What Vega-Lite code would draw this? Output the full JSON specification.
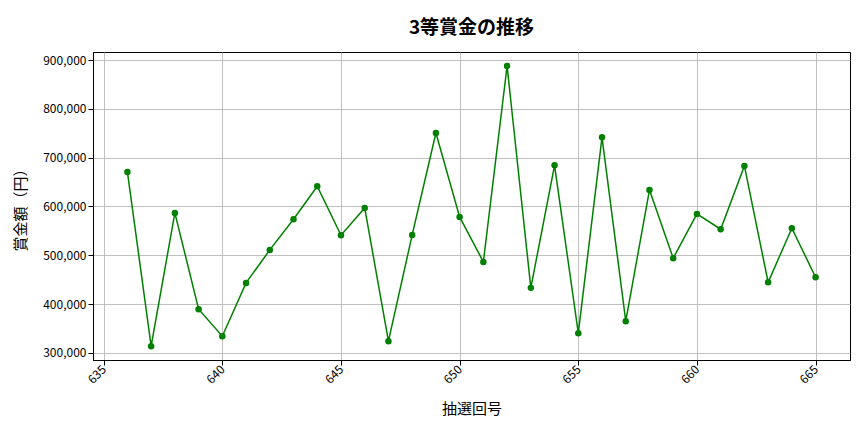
{
  "$schema": "https://vega.github.io/schema/vega-lite/v6.json",
  "autosize": "none",
  "width": 757,
  "height": 308,
  "padding": {"left": 93, "top": 52, "right": 14, "bottom": 72},
  "background": "white",
  "title": {
    "text": "3等賞金の推移",
    "font": "Noto Sans CJK JP",
    "fontSize": 19,
    "fontWeight": "bold",
    "color": "#000000",
    "offset": 14
  },
  "config": {
    "view": {"stroke": "#000000", "strokeWidth": 1},
    "axis": {
      "labelFont": "Noto Sans CJK JP",
      "titleFont": "Noto Sans CJK JP",
      "labelFontSize": 12,
      "titleFontSize": 15,
      "titleFontWeight": "normal",
      "labelColor": "#000000",
      "titleColor": "#000000",
      "gridColor": "#b0b0b0",
      "gridWidth": 0.8,
      "tickColor": "#000000",
      "tickSize": 5,
      "domainColor": "#000000"
    }
  },
  "data": {
    "values": [
      {"round": 636, "prize": 670700},
      {"round": 637, "prize": 313700},
      {"round": 638, "prize": 586700},
      {"round": 639, "prize": 389400},
      {"round": 640, "prize": 334100},
      {"round": 641, "prize": 443300},
      {"round": 642, "prize": 510900},
      {"round": 643, "prize": 573700},
      {"round": 644, "prize": 641300},
      {"round": 645, "prize": 541000},
      {"round": 646, "prize": 596900},
      {"round": 647, "prize": 323900},
      {"round": 648, "prize": 541600},
      {"round": 649, "prize": 750500},
      {"round": 650, "prize": 578500},
      {"round": 651, "prize": 486300},
      {"round": 652, "prize": 887700},
      {"round": 653, "prize": 433100},
      {"round": 654, "prize": 684300},
      {"round": 655, "prize": 340300},
      {"round": 656, "prize": 741600},
      {"round": 657, "prize": 364800},
      {"round": 658, "prize": 633800},
      {"round": 659, "prize": 493900},
      {"round": 660, "prize": 584600},
      {"round": 661, "prize": 553200},
      {"round": 662, "prize": 682900},
      {"round": 663, "prize": 444700},
      {"round": 664, "prize": 555300},
      {"round": 665, "prize": 454900}
    ]
  },
  "mark": {
    "type": "line",
    "color": "#008000",
    "strokeWidth": 1.5,
    "point": {"filled": true, "color": "#008000", "size": 42, "opacity": 1}
  },
  "encoding": {
    "x": {
      "field": "round",
      "type": "quantitative",
      "title": "抽選回号",
      "scale": {"domain": [634.55, 666.45], "nice": false, "zero": false},
      "axis": {
        "values": [635, 640, 645, 650, 655, 660, 665],
        "labelAngle": -45,
        "labelAlign": "right",
        "labelBaseline": "middle",
        "labelOffset": 0,
        "titlePadding": 16
      }
    },
    "y": {
      "field": "prize",
      "type": "quantitative",
      "title": "賞金額（円）",
      "scale": {"domain": [285300, 916400], "nice": false, "zero": false},
      "axis": {
        "values": [300000, 400000, 500000, 600000, 700000, 800000, 900000],
        "format": ",d",
        "titlePadding": 14
      }
    }
  }
}
